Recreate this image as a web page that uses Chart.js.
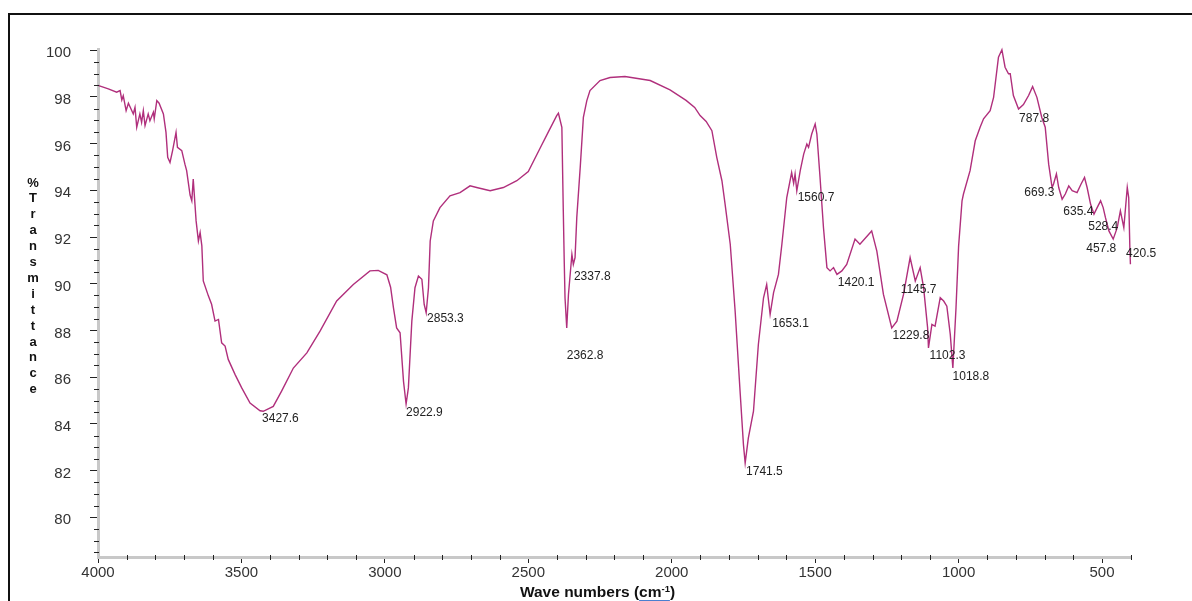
<!DOCTYPE html>
<html>
<head>
<meta charset="utf-8">
<script src="https://cdn.jsdelivr.net/npm/chart.js@4.4.1/dist/chart.umd.min.js"></script>
<style>
  html, body { margin: 0; padding: 0; background: #fff; }
  #wrap { position: relative; width: 1192px; height: 601px; }
  #frame { position: absolute; left: 8px; top: 13px; width: 1300px; height: 700px;
           border-left: 2px solid #111; border-top: 2px solid #111; pointer-events: none; }
  canvas { position: absolute; left: 0; top: 0; }
</style>
</head>
<body>
<div id="wrap">
  <canvas id="ftir" width="1192" height="601"></canvas>
  <div id="frame"></div>
</div>
<script>
// FTIR spectrum (wavenumber cm-1 -> %T)
const waveNumbers = [
  4000, 3964, 3935, 3923, 3917, 3912, 3902, 3894, 3877, 3871, 3865, 3854, 3848, 3842, 3836,
  3825, 3819, 3807, 3804, 3795, 3787, 3772, 3763, 3757, 3749, 3740, 3728, 3723, 3708, 3697,
  3691, 3679, 3673, 3668, 3658, 3650, 3644, 3638, 3633, 3615, 3604, 3592, 3580, 3569, 3557,
  3546, 3522, 3499, 3470, 3435, 3424, 3389, 3360, 3319, 3272, 3226, 3168, 3110, 3052, 3023,
  2993, 2980, 2970, 2959, 2947, 2935, 2926, 2918, 2906, 2895, 2883, 2871, 2863, 2856, 2848,
  2842, 2831, 2808, 2773, 2738, 2703, 2680, 2633, 2587, 2540, 2500, 2459, 2430, 2401, 2395,
  2383, 2378, 2375, 2372, 2366, 2360, 2348, 2343, 2337, 2331, 2319, 2308, 2296, 2285, 2250,
  2215, 2163, 2075, 2006, 1950, 1920, 1901, 1880, 1860, 1843, 1825, 1814, 1796, 1779, 1761,
  1750, 1744, 1733, 1715, 1698, 1680, 1669, 1657, 1645, 1628, 1616, 1599, 1582, 1575, 1570,
  1564, 1552, 1540, 1529, 1523, 1512, 1500, 1494, 1483, 1471, 1459, 1448, 1436, 1424, 1407,
  1390, 1361, 1344, 1303, 1285, 1262, 1233, 1215, 1192, 1169, 1151, 1134, 1122, 1108, 1105,
  1093, 1082, 1064, 1052, 1041, 1029, 1020, 1009, 1000, 988, 983, 960, 942, 925, 913,
  890, 878, 861, 849, 838, 826, 820, 809, 791, 774, 756, 742, 727, 710, 698,
  686, 674, 669, 659, 651, 639, 628, 616, 604, 587, 573, 561, 552, 540, 528,
  517, 505, 496, 488, 476, 461, 447, 436, 424, 412, 407, 403, 401
];
const transmittance = [
  98.49, 98.34, 98.20, 98.27, 97.87, 98.05, 97.41, 97.73, 97.27, 97.55, 96.70, 97.27, 96.91, 97.41, 96.77,
  97.27, 96.98, 97.34, 97.06, 97.84, 97.73, 97.27, 96.48, 95.41, 95.19, 95.70, 96.48, 95.84, 95.70, 95.12,
  94.84, 93.80, 93.55, 94.48, 92.69, 91.83, 92.19, 91.62, 90.12, 89.47, 89.12, 88.40, 88.47, 87.47, 87.33,
  86.76, 86.11, 85.54, 84.89, 84.56, 84.54, 84.75, 85.40, 86.39, 87.04, 87.97, 89.26, 89.97, 90.55, 90.57,
  90.38, 89.85, 88.97, 88.11, 87.90, 85.82, 84.85, 85.54, 88.40, 89.83, 90.33, 90.19, 89.12, 88.76, 89.83,
  91.83, 92.69, 93.26, 93.76, 93.90, 94.19, 94.12, 93.98, 94.12, 94.41, 94.80, 95.80, 96.50, 97.20, 97.30,
  96.70, 93.12, 91.12, 89.40, 88.11, 89.54, 91.26, 90.83, 91.12, 92.83, 94.98, 97.12, 97.84, 98.27, 98.70,
  98.83, 98.87, 98.70, 98.30, 97.85, 97.55, 97.20, 96.95, 96.55, 95.41, 94.41, 93.41, 91.69, 88.83, 85.25,
  83.11, 82.32, 83.39, 84.54, 87.40, 89.40, 89.97, 88.69, 89.62, 90.40, 91.69, 93.69, 94.76, 94.30, 94.70,
  93.98, 94.84, 95.55, 95.98, 95.84, 96.41, 96.84, 96.41, 94.55, 92.40, 90.69, 90.55, 90.69, 90.40, 90.55,
  90.83, 91.91, 91.69, 92.26, 91.40, 89.54, 88.11, 88.40, 89.54, 91.12, 90.12, 90.69, 89.83, 88.11, 87.25,
  88.26, 88.18, 89.40, 89.26, 89.04, 87.83, 86.39, 88.97, 91.60, 93.55, 93.84, 94.84, 96.12, 96.70, 97.06,
  97.41, 97.98, 99.70, 100.02, 99.27, 98.99, 98.99, 98.06, 97.48, 97.67, 98.06, 98.44, 97.98, 97.12, 96.70,
  95.12, 94.12, 94.27, 94.70, 94.12, 93.62, 93.84, 94.19, 93.98, 93.90, 94.27, 94.55, 94.12, 93.41, 92.98,
  93.26, 93.55, 93.26, 92.83, 92.26, 91.91, 92.40, 93.12, 92.40, 94.12, 93.69, 91.55, 90.83
];

// peak annotations: text and where the text sits (data units)
const peakLabels = ['3427.6', '2922.9', '2853.3', '2337.8', '2362.8', '1741.5', '1653.1', '1560.7',
  '1420.1', '1229.8', '1145.7', '1102.3', '1018.8', '787.8', '669.3', '635.4', '528.4', '457.8', '420.5'];
const peakLabelX = [3428, 2926, 2853, 2341, 2366, 1741, 1650, 1561, 1421, 1230, 1202, 1101, 1021,
  789, 771, 635, 548, 555, 416];
const peakLabelY = [84.24, 84.50, 88.50, 90.29, 86.94, 81.96, 88.31, 93.68, 90.03, 87.76, 89.73, 86.94,
  86.04, 97.07, 93.89, 93.08, 92.43, 91.49, 91.27];

const xTickValues = [4000, 3500, 3000, 2500, 2000, 1500, 1000, 500];
const yTickValues = [80, 82, 84, 86, 88, 90, 92, 94, 96, 98, 100];
const yTitleLetters = ['%', 'T', 'r', 'a', 'n', 's', 'm', 'i', 't', 't', 'a', 'n', 'c', 'e'];

const FONT = '"Liberation Sans", Arial, sans-serif';

const decorations = {
  id: 'decorations',
  afterDraw(chart) {
    const ctx = chart.ctx;
    const x = chart.scales.x, y = chart.scales.y;
    const area = chart.chartArea;
    ctx.save();

    // minor ticks
    ctx.strokeStyle = '#222';
    ctx.lineWidth = 1;
    ctx.beginPath();
    for (let w = 3900; w >= 400; w -= 100) {
      if (w % 500 === 0) continue;
      const px = Math.round(x.getPixelForValue(w)) + 0.5;
      ctx.moveTo(px, area.bottom - 2);
      ctx.lineTo(px, area.bottom + 3);
    }
    for (let t = 78.5; t <= 100; t += 0.5) {
      if (t % 2 === 0) continue;
      const py = Math.round(y.getPixelForValue(t)) + 0.5;
      ctx.moveTo(area.left - 4, py);
      ctx.lineTo(area.left + 1, py);
    }
    ctx.stroke();

    // peak labels
    ctx.fillStyle = '#222';
    ctx.font = '12px ' + FONT;
    ctx.textAlign = 'left';
    ctx.textBaseline = 'middle';
    peakLabels.forEach((txt, i) => {
      ctx.fillText(txt, x.getPixelForValue(peakLabelX[i]), y.getPixelForValue(peakLabelY[i]));
    });

    // y title, one letter per line
    ctx.font = 'bold 13px ' + FONT;
    ctx.textAlign = 'center';
    ctx.fillStyle = '#111';
    yTitleLetters.forEach((ch, i) => {
      ctx.fillText(ch, 33, 183 + i * 15.9);
    });

    // x title
    const cx = (area.left + area.right) / 2 - 17;
    const ty = 593;
    const big = 'bold 15.5px ' + FONT, small = 'bold 9.5px ' + FONT;
    ctx.textAlign = 'left';
    const p1 = 'Wave numbers (', p2 = 'cm', p3 = ')';
    ctx.font = big;
    const w1 = ctx.measureText(p1).width, w2 = ctx.measureText(p2).width, w3 = ctx.measureText(p3).width;
    ctx.font = small;
    const wsup = ctx.measureText('-1').width;
    const sx = cx - (w1 + w2 + wsup + w3) / 2;
    ctx.font = big;
    ctx.fillText(p1, sx, ty);
    ctx.fillText(p2, sx + w1, ty);
    ctx.font = small;
    ctx.fillText('-1', sx + w1 + w2, ty - 4);
    ctx.font = big;
    ctx.fillText(p3, sx + w1 + w2 + wsup, ty);
    ctx.strokeStyle = '#4a7fd0';
    ctx.beginPath();
    ctx.moveTo(sx + w1, ty + 7.5);
    ctx.lineTo(sx + w1 + w2 + wsup, ty + 7.5);
    ctx.stroke();

    ctx.restore();
  }
};

new Chart(document.getElementById('ftir').getContext('2d'), {
  type: 'line',
  data: {
    datasets: [{
      data: waveNumbers.map((w, i) => ({ x: w, y: transmittance[i] })),
      borderColor: '#b02f7c',
      borderWidth: 1.4,
      pointRadius: 0,
      tension: 0,
      clip: false
    }]
  },
  options: {
    responsive: false,
    animation: false,
    parsing: false,
    layout: { padding: { left: 0, top: 49, right: 61, bottom: 0 } },
    plugins: { legend: { display: false }, tooltip: { enabled: false } },
    scales: {
      x: {
        type: 'linear',
        reverse: true,
        min: 399,
        max: 4000,
        afterBuildTicks: s => { s.ticks = xTickValues.map(v => ({ value: v })); },
        afterFit: s => { s.height = 44; },
        grid: { drawOnChartArea: false, drawTicks: true, tickLength: 6, tickColor: '#222', tickWidth: 1 },
        border: { color: '#c8c8c8', width: 3 },
        ticks: { color: '#333', font: { family: FONT, size: 15 }, padding: 1, maxRotation: 0, autoSkip: false,
                 callback: v => String(v) }
      },
      y: {
        min: 78.3,
        max: 100.05,
        afterBuildTicks: s => { s.ticks = yTickValues.map(v => ({ value: v })); },
        afterFit: s => { s.width = 98; },
        grid: { drawOnChartArea: false, drawTicks: true, tickLength: 8, tickColor: '#222', tickWidth: 1 },
        border: { color: '#c8c8c8', width: 3 },
        ticks: { color: '#333', font: { family: FONT, size: 15 }, padding: 19, labelOffset: 3, autoSkip: false,
                 callback: v => String(v) }
      }
    }
  },
  plugins: [decorations]
});
</script>
</body>
</html>
